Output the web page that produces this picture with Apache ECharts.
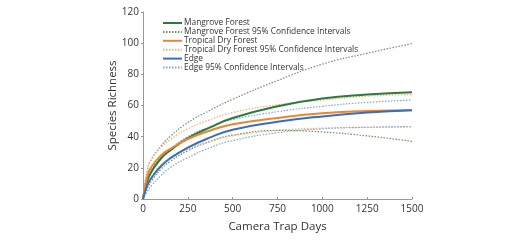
<!DOCTYPE html>
<html>
<head>
<meta charset="utf-8">
<script src="https://cdn.jsdelivr.net/npm/echarts@6/dist/echarts.min.js"></script>
<style>
html,body{margin:0;padding:0;background:#fff;}
#main{width:528px;height:241px;}
</style>
</head>
<body>
<div id="main"></div>
<script>
// camera trap days (x)
const days = [0, 25, 50, 100, 150, 250, 375, 500, 750, 1000, 1250, 1500];

const mangrove      = [0, 12, 18, 26, 31, 39, 46, 52, 59.5, 64.5, 67, 68.5];
const mangroveUpper = [0, 19, 26, 34, 40, 49, 57, 64, 76, 86.5, 93.5, 99.7];
const mangroveLower = [0, 7, 12, 19, 24, 31, 37, 41, 44, 43, 40.5, 37];

const dryForest      = [0, 15, 21, 28, 32, 38.5, 44, 48, 52, 55, 56.5, 57];
const dryForestUpper = [0, 19, 26, 33, 38, 45, 51, 55.5, 60.5, 63.5, 66, 67];
const dryForestLower = [0, 10, 15, 22, 26, 32, 37, 40.5, 44, 45.5, 46, 46.2];

const edge      = [0, 9, 14, 21, 26, 33, 39.5, 44.5, 49.5, 53, 55.5, 57];
const edgeUpper = [0, 13, 19, 27, 32, 40, 46.5, 51, 56, 59.5, 62, 63.5];
const edgeLower = [0, 5, 9, 15, 20, 26.5, 33, 37.5, 42.5, 45, 46, 46.5];

const names = [
  "Mangrove Forest",
  "Mangrove Forest 95% Confidence Intervals",
  "Tropical Dry Forest",
  "Tropical Dry Forest 95% Confidence Intervals",
  "Edge",
  "Edge 95% Confidence Intervals"
];

function pairs(arr) {
  return days.map((d, i) => [d, arr[i]]);
}

function solid(name, data, color) {
  return {
    name: name, type: "line", smooth: true, symbol: "none",
    data: pairs(data),
    lineStyle: { color: color, width: 2 },
    itemStyle: { color: color }
  };
}
function dotted(name, data, color) {
  return {
    name: name, type: "line", smooth: true, symbol: "none",
    data: pairs(data),
    lineStyle: { color: color, width: 1.2, type: [1.5, 1.5] },
    itemStyle: { color: color }
  };
}

const green = "#2c7a3c", greenCi = "#6f9464";
const orange = "#e8872f", orangeCi = "#f0b07c";
const blue = "#3a6cc0", blueCi = "#82a7d6";

let chart = echarts.init(document.getElementById("main"));
let option = {
  animation: false,
  textStyle: { fontFamily: "Open Sans" },
  grid: { left: 143, right: 116, top: 12, bottom: 42 },
  legend: {
    orient: "vertical",
    left: 157, top: 14,
    itemWidth: 19, itemHeight: 8, itemGap: 0.9,
    itemStyle: { color: "rgba(0,0,0,0)", borderWidth: 0 },
    textStyle: { fontSize: 8.4, color: "#333", padding: [0, 0, 0, -3] },
    data: names
  },
  xAxis: {
    type: "value", min: 0, max: 1500, interval: 250,
    name: "Camera Trap Days", nameLocation: "middle", nameGap: 22,
    nameMoveOverlap: false,
    nameTextStyle: { fontSize: 11.5, color: "#333" },
    axisLine: { show: true, lineStyle: { color: "#999" } },
    axisTick: { show: true, length: 2, inside: true, lineStyle: { color: "#999" } },
    axisLabel: { fontSize: 10, color: "#333", margin: 5, formatter: v => String(v) },
    splitLine: { show: false }
  },
  yAxis: {
    type: "value", min: 0, max: 120, interval: 20,
    name: "Species Richness", nameLocation: "middle", nameGap: 24,
    nameMoveOverlap: false,
    nameTextStyle: { fontSize: 11.5, color: "#333" },
    axisLine: { show: true, lineStyle: { color: "#999" } },
    axisTick: { show: true, length: 2, lineStyle: { color: "#999" } },
    axisLabel: { fontSize: 10, color: "#333", margin: 4 },
    splitLine: { show: false }
  },
  series: [
    dotted(names[1], mangroveUpper, greenCi),
    dotted(names[1], mangroveLower, greenCi),
    dotted(names[3], dryForestUpper, orangeCi),
    dotted(names[3], dryForestLower, orangeCi),
    dotted(names[5], edgeUpper, blueCi),
    dotted(names[5], edgeLower, blueCi),
    solid(names[0], mangrove, green),
    solid(names[2], dryForest, orange),
    solid(names[4], edge, blue)
  ]
};
chart.setOption(option);
window.addEventListener("resize", chart.resize);
</script>
</body>
</html>
